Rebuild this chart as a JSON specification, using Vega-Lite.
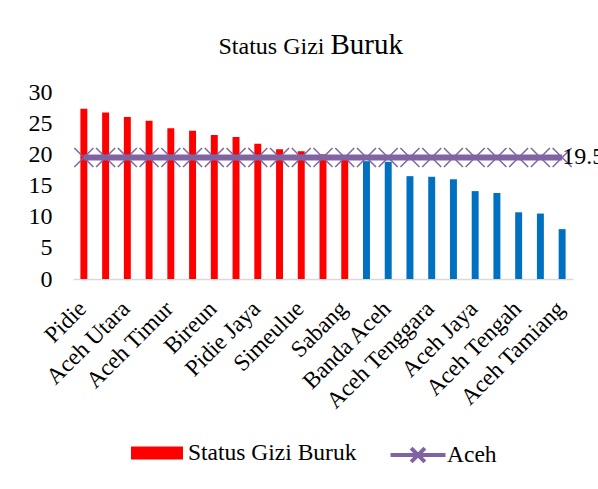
{
  "$schema": "https://vega.github.io/schema/vega-lite/v6.json",
  "autosize": "none",
  "width": 500,
  "height": 187,
  "padding": {"left": 73, "top": 92, "right": 25, "bottom": 210},
  "background": "white",
  "config": {
    "font": "Liberation Serif",
    "view": {"stroke": null},
    "axis": {"grid": false, "ticks": false, "labelColor": "black", "titleColor": "black", "labelFont": "Liberation Serif", "titleFont": "Liberation Serif", "titleFontWeight": "normal"},
    "axisY": {
      "values": [0, 5, 10, 15, 20, 25, 30],
      "labelOverlap": false,
      "labelFlush": false,
      "domain": false,
      "labelFontSize": 24,
      "labelPadding": 21,
      "titleFontSize": 29,
      "titleAngle": 0,
      "titleX": 257,
      "titleY": -39,
      "titleAlign": "left",
      "titleBaseline": "alphabetic"
    },
    "legend": {"labelFont": "Liberation Serif", "labelColor": "black"}
  },
  "data": {
    "values": [
      {"wilayah": "Pidie", "nilai": 27.3, "kategori": "Status Gizi Buruk", "aceh": 19.5},
      {"wilayah": "Aceh Besar", "nilai": 26.7, "kategori": "Status Gizi Buruk", "aceh": 19.5},
      {"wilayah": "Aceh Utara", "nilai": 26.0, "kategori": "Status Gizi Buruk", "aceh": 19.5},
      {"wilayah": "Aceh Barat", "nilai": 25.4, "kategori": "Status Gizi Buruk", "aceh": 19.5},
      {"wilayah": "Aceh Timur", "nilai": 24.2, "kategori": "Status Gizi Buruk", "aceh": 19.5},
      {"wilayah": "Aceh Selatan", "nilai": 23.8, "kategori": "Status Gizi Buruk", "aceh": 19.5},
      {"wilayah": "Bireun", "nilai": 23.1, "kategori": "Status Gizi Buruk", "aceh": 19.5},
      {"wilayah": "Nagan Raya", "nilai": 22.8, "kategori": "Status Gizi Buruk", "aceh": 19.5},
      {"wilayah": "Pidie Jaya", "nilai": 21.7, "kategori": "Status Gizi Buruk", "aceh": 19.5},
      {"wilayah": "Aceh Barat Daya", "nilai": 20.8, "kategori": "Status Gizi Buruk", "aceh": 19.5},
      {"wilayah": "Simeulue", "nilai": 20.5, "kategori": "Status Gizi Buruk", "aceh": 19.5},
      {"wilayah": "Gayo Lues", "nilai": 20.0, "kategori": "Status Gizi Buruk", "aceh": 19.5},
      {"wilayah": "Sabang", "nilai": 19.7, "kategori": "Status Gizi Buruk", "aceh": 19.5},
      {"wilayah": "Lhokseumawe", "nilai": 18.9, "kategori": "Di bawah Aceh", "aceh": 19.5},
      {"wilayah": "Banda Aceh", "nilai": 18.8, "kategori": "Di bawah Aceh", "aceh": 19.5},
      {"wilayah": "Bener Meriah", "nilai": 16.5, "kategori": "Di bawah Aceh", "aceh": 19.5},
      {"wilayah": "Aceh Tenggara", "nilai": 16.4, "kategori": "Di bawah Aceh", "aceh": 19.5},
      {"wilayah": "Aceh Singkil", "nilai": 16.0, "kategori": "Di bawah Aceh", "aceh": 19.5},
      {"wilayah": "Aceh Jaya", "nilai": 14.1, "kategori": "Di bawah Aceh", "aceh": 19.5},
      {"wilayah": "Langsa", "nilai": 13.8, "kategori": "Di bawah Aceh", "aceh": 19.5},
      {"wilayah": "Aceh Tengah", "nilai": 10.7, "kategori": "Di bawah Aceh", "aceh": 19.5},
      {"wilayah": "Subulussalam", "nilai": 10.5, "kategori": "Di bawah Aceh", "aceh": 19.5},
      {"wilayah": "Aceh Tamiang", "nilai": 8.0, "kategori": "Di bawah Aceh", "aceh": 19.5}
    ]
  },
  "encoding": {
    "x": {
      "field": "wilayah",
      "type": "nominal",
      "sort": null,
      "scale": {"paddingInner": 0.68, "paddingOuter": 0.34},
      "axis": {
        "values": ["Pidie", "Aceh Utara", "Aceh Timur", "Bireun", "Pidie Jaya", "Simeulue", "Sabang", "Banda Aceh", "Aceh Tenggara", "Aceh Jaya", "Aceh Tengah", "Aceh Tamiang"],
        "labelAngle": -45,
        "labelAlign": "right",
        "labelBaseline": "top",
        "labelFontSize": 23.3,
        "labelPadding": 18,
        "labelOffset": -9,
        "labelOverlap": false,
        "labelLimit": 300,
        "domainColor": "#d9d9d9",
        "domainWidth": 1.5,
        "title": "Status Gizi",
        "titleFontSize": 24,
        "titleX": 145,
        "titleY": -226,
        "titleAlign": "left",
        "titleBaseline": "alphabetic",
        "titleAngle": 0
      }
    }
  },
  "layer": [
    {
      "mark": {"type": "bar"},
      "encoding": {
        "y": {
          "field": "nilai",
          "type": "quantitative",
          "scale": {"domain": [0, 30], "nice": false},
          "axis": {"title": "Buruk"}
        },
        "fill": {
          "field": "kategori",
          "type": "nominal",
          "scale": {"domain": ["Status Gizi Buruk", "Di bawah Aceh"], "range": ["#FF0000", "#0070C0"]},
          "legend": {
            "values": ["Status Gizi Buruk"],
            "title": null,
            "orient": "none",
            "legendX": 71,
            "legendY": 348,
            "symbolType": "M-2,-0.5H2V0.5H-2Z",
            "symbolSize": 676,
            "symbolStrokeWidth": 0,
            "labelFontSize": 23.5,
            "labelLimit": 300,
            "labelOffset": 18
          }
        }
      }
    },
    {
      "mark": {"type": "line", "strokeWidth": 6},
      "encoding": {
        "y": {"field": "aceh", "type": "quantitative", "axis": {"title": "Buruk"}},
        "stroke": {
          "datum": "Aceh",
          "scale": {"range": ["#8064A2"]},
          "legend": {
            "title": null,
            "orient": "none",
            "legendX": 329,
            "legendY": 347,
            "symbolType": "M-2,0H2M-0.5,-0.5L0.5,0.5M-0.5,0.5L0.5,-0.5",
            "symbolSize": 756,
            "symbolStrokeWidth": 4,
            "symbolFillColor": "transparent",
            "labelFontSize": 23.5,
            "labelLimit": 300,
            "labelOffset": 13
          }
        }
      }
    },
    {
      "mark": {"type": "point", "shape": "M-1,-1L1,1M-1,1L1,-1", "filled": false, "size": 361, "strokeWidth": 1.5, "stroke": "#8064A2", "opacity": 1},
      "encoding": {
        "y": {"field": "aceh", "type": "quantitative", "axis": {"title": "Buruk"}}
      }
    },
    {
      "transform": [{"filter": "datum.wilayah === 'Aceh Tamiang'"}],
      "mark": {"type": "text", "align": "left", "baseline": "middle", "fontSize": 24, "dx": 0, "font": "Liberation Serif", "color": "black"},
      "encoding": {
        "y": {"field": "aceh", "type": "quantitative", "axis": {"title": "Buruk"}},
        "text": {"field": "aceh", "type": "quantitative", "format": ".1f"}
      }
    }
  ]
}
